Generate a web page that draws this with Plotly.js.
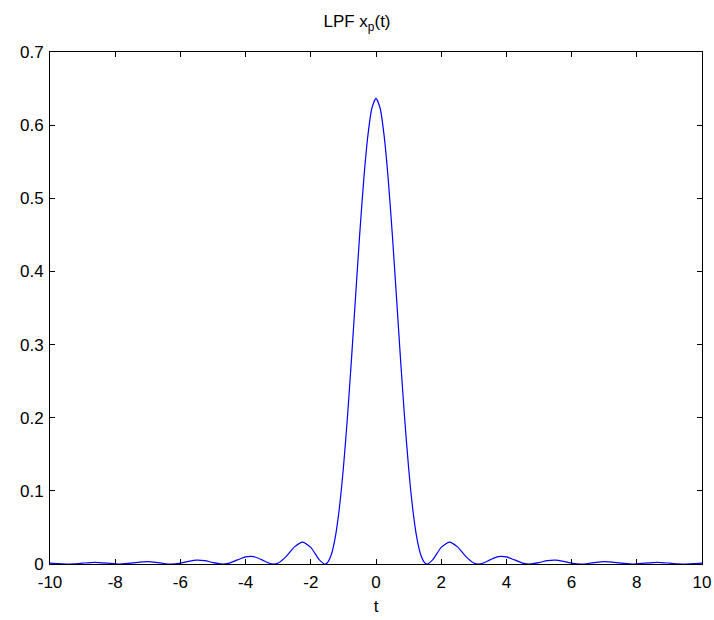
<!DOCTYPE html>
<html>
<head>
<meta charset="utf-8">
<script src="https://cdn.plot.ly/plotly-3.0.1.min.js"></script>
<style>html,body{margin:0;padding:0;background:#fff;}#chart{width:714px;height:620px;}</style>
</head>
<body>
<div id="chart"></div>
<script>
const tValues = [-10, -9.75, -9.425, -9.25, -9, -8.75, -8.5, -8.25, -8, -7.854, -7.5, -7.25, -7, -6.75, -6.5, -6.283, -6, -5.75, -5.5, -5.25, -5, -4.712, -4.5, -4.25, -4, -3.75, -3.5, -3.25, -3.142, -3, -2.75, -2.5, -2.25, -2, -1.75, -1.571, -1.5, -1.375, -1.25, -1.125, -1, -0.875, -0.75, -0.625, -0.5, -0.375, -0.25, -0.125, 0, 0.125, 0.25, 0.375, 0.5, 0.625, 0.75, 0.875, 1, 1.125, 1.25, 1.375, 1.5, 1.571, 1.75, 2, 2.25, 2.5, 2.75, 3, 3.142, 3.25, 3.5, 3.75, 4, 4.25, 4.5, 4.712, 5, 5.25, 5.5, 5.75, 6, 6.283, 6.5, 6.75, 7, 7.25, 7.5, 7.854, 8, 8.25, 8.5, 8.75, 9, 9.25, 9.425, 9.75, 10];
const xpValues = [0.0013, 0.0006, 0, 0.0002, 0.0011, 0.0020, 0.0020, 0.0012, 0.0002, 0, 0.0012, 0.0026, 0.0032, 0.0023, 0.0007, 0, 0.0013, 0.0037, 0.0053, 0.0045, 0.0019, 0, 0.0013, 0.0056, 0.0097, 0.0100, 0.0056, 0.0007, 0, 0.0014, 0.0105, 0.0234, 0.0300, 0.0228, 0.0064, 0, 0.0014, 0.0123, 0.0365, 0.0761, 0.1316, 0.2013, 0.2815, 0.3669, 0.4508, 0.5259, 0.5853, 0.6234, 0.6366, 0.6234, 0.5853, 0.5259, 0.4508, 0.3669, 0.2815, 0.2013, 0.1316, 0.0761, 0.0365, 0.0123, 0.0014, 0, 0.0064, 0.0228, 0.0300, 0.0234, 0.0105, 0.0014, 0, 0.0007, 0.0056, 0.0100, 0.0097, 0.0056, 0.0013, 0, 0.0019, 0.0045, 0.0053, 0.0037, 0.0013, 0, 0.0007, 0.0023, 0.0032, 0.0026, 0.0012, 0, 0.0002, 0.0012, 0.0020, 0.0020, 0.0011, 0.0002, 0, 0.0006, 0.0013];
const xTicks = [-10, -8, -6, -4, -2, 0, 2, 4, 6, 8, 10];
const xTickLabels = ['-10', '-8', '-6', '-4', '-2', '0', '2', '4', '6', '8', '10'];
const yTicks = [0, 0.1, 0.2, 0.3, 0.4, 0.5, 0.6, 0.7];
const yTickLabels = ['0', '0.1', '0.2', '0.3', '0.4', '0.5', '0.6', '0.7'];
const titleText = 'LPF x<sub>p</sub>(t)';
const xTitle = 't';

const font = {family: 'Liberation Sans, Arial, sans-serif', size: 17, color: '#000'};
const axisCommon = {
  showline: true, linecolor: '#000', linewidth: 1, mirror: 'ticks',
  ticks: 'inside', ticklen: 5, tickcolor: '#000', tickwidth: 1,
  showgrid: false, zeroline: false, tickfont: font
};
Plotly.newPlot('chart', [{
  x: tValues, y: xpValues, type: 'scatter', mode: 'lines',
  line: {color: '#0000ff', width: 1.2, shape: 'spline', smoothing: 0.6},
  showlegend: false
}], {
  width: 714, height: 620,
  margin: {l: 50, r: 12, t: 52, b: 56},
  paper_bgcolor: '#fff', plot_bgcolor: '#fff',
  font: font,
  title: {text: titleText, font: font, x: 0.5, xanchor: 'center', y: 0.966, yanchor: 'middle'},
  xaxis: Object.assign({}, axisCommon, {range: [-10, 10], tickvals: xTicks, ticktext: xTickLabels,
    ticklabelstandoff: 3,
    title: {text: xTitle, font: font, standoff: 8}}),
  yaxis: Object.assign({}, axisCommon, {range: [0, 0.7], tickvals: yTicks, ticktext: yTickLabels,
    ticklabelstandoff: 2})
}, {displayModeBar: false, staticPlot: true});
</script>
</body>
</html>
